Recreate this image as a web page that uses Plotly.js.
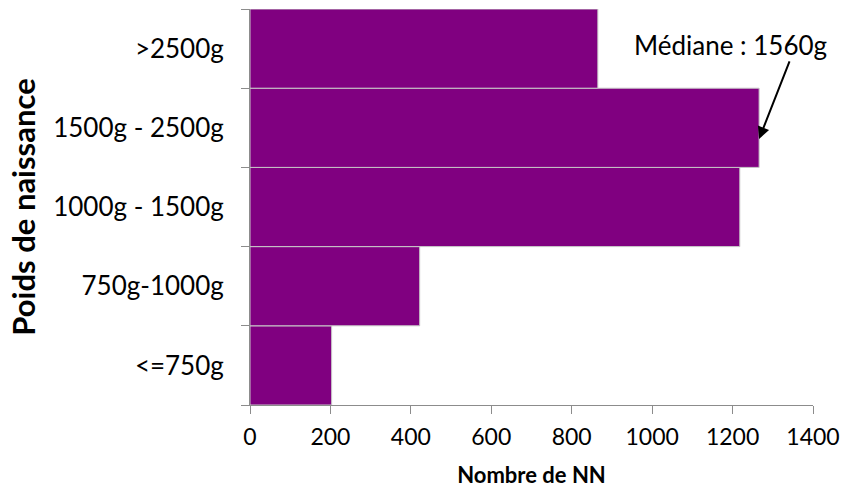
<!DOCTYPE html>
<html>
<head>
<meta charset="utf-8">
<script src="https://cdn.plot.ly/plotly-3.0.1.min.js"></script>
<style>html,body{margin:0;padding:0;background:#fff;}#chart{width:841px;height:488px;}</style>
</head>
<body>
<div id="chart"></div>
<script>
var categories = ["<=750g", "750g-1000g", "1000g - 1500g", "1500g - 2500g", ">2500g"];
var counts = [203, 422, 1218, 1266, 865];
var xTickValues = [0, 200, 400, 600, 800, 1000, 1200, 1400];
var medianLabel = "Médiane : 1560g";
var medianCategoryIndex = 3;

var FONT = "Lato, 'Open Sans', sans-serif";

var trace = {
  type: "bar",
  orientation: "h",
  y: categories,
  x: counts,
  marker: { color: "#800080", line: { color: "#c8c8c8", width: 1 } },
  hoverinfo: "x+y"
};

var layout = {
  width: 841,
  height: 488,
  margin: { l: 250, r: 28, t: 9, b: 83, pad: 0 },
  paper_bgcolor: "#ffffff",
  plot_bgcolor: "#ffffff",
  bargap: 0,
  showlegend: false,
  font: { family: FONT, color: "#000000" },
  xaxis: {
    range: [0, 1400],
    tickvals: xTickValues,
    ticktext: xTickValues.map(String),
    showgrid: false,
    zeroline: false,
    showline: true,
    linecolor: "#8c8c8c",
    linewidth: 1,
    ticks: "outside",
    ticklen: 8,
    tickcolor: "#8c8c8c",
    ticklabelstandoff: 3,
    tickfont: { family: FONT, size: 23, color: "#000000" },
    title: { text: "Nombre de NN", font: { family: FONT, size: 22, color: "#000000", weight: "bold" }, standoff: 20 }
  },
  yaxis: {
    type: "category",
    categoryorder: "array",
    categoryarray: categories,
    showgrid: false,
    zeroline: false,
    showline: true,
    linecolor: "#8c8c8c",
    linewidth: 1,
    ticks: "outside",
    tickson: "boundaries",
    ticklen: 8,
    tickcolor: "#8c8c8c",
    ticklabelstandoff: 20,
    tickfont: { family: FONT, size: 26, color: "#000000" },
    title: { text: "Poids de naissance", font: { family: FONT, size: 31, color: "#000000", weight: "bold" }, standoff: 8 }
  },
  annotations: [
    {
      xref: "paper", yref: "paper",
      x: 0.854, y: 0.909,
      xanchor: "center", yanchor: "middle",
      text: medianLabel,
      showarrow: false,
      font: { family: FONT, size: 26, color: "#000000" }
    },
    {
      xref: "x", yref: "y",
      x: counts[medianCategoryIndex], y: medianCategoryIndex - 0.14,
      text: "",
      showarrow: true,
      axref: "pixel", ayref: "pixel",
      ax: 31, ay: -79,
      arrowhead: 2, arrowsize: 1.2, arrowwidth: 2, arrowcolor: "#000000",
      standoff: 0
    }
  ]
};

Plotly.newPlot("chart", [trace], layout, { displayModeBar: false, staticPlot: true });
</script>
</body>
</html>
